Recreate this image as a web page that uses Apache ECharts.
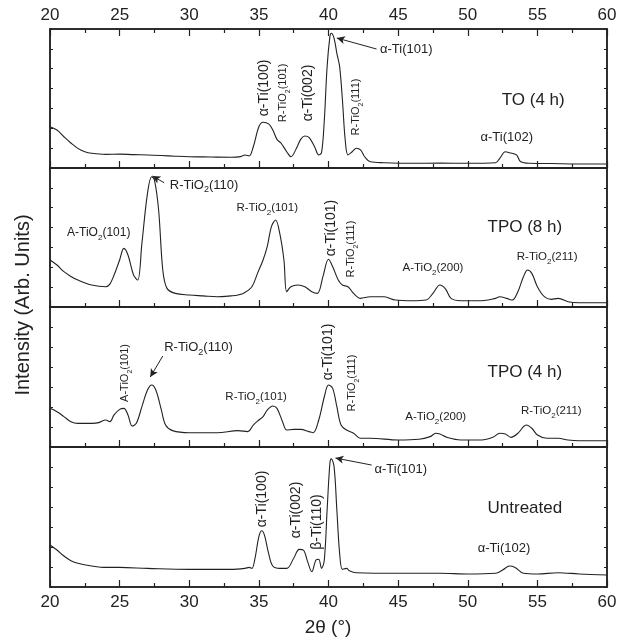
<!DOCTYPE html>
<html><head><meta charset="utf-8">
<script src="https://cdn.jsdelivr.net/npm/echarts@6/dist/echarts.min.js"></script>
<style>html,body{margin:0;padding:0;background:#fff}#c{width:628px;height:644px}</style>
</head><body><div id="c"></div>
<script>
// ---- data (2θ in degrees, intensity in arbitrary units per panel, 0-100) ----
const X_TICKS = [20, 25, 30, 35, 40, 45, 50, 55, 60];
const PANEL_NAMES = ['TO (4 h)', 'TPO (8 h)', 'TPO (4 h)', 'Untreated'];

const TO_4H = [[20,29.7],[20.5,27.3],[21,22.5],[21.5,18],[22,14.1],[22.5,11.7],[23,10.6],[24,9.8],[25,10],[26,9.6],[27,9.4],[28,9],[29,8.5],[30,8.1],[31,8],[32,7.8],[33,7.7],[33.7,8.2],[34,9.4],[34.3,8.6],[34.6,15.3],[35,29.7],[35.3,32.9],[35.7,31.7],[36,27.3],[36.3,20.6],[36.6,17.8],[37,11.7],[37.3,8.1],[37.7,14.2],[38,20.6],[38.3,23],[38.6,22],[39,15.3],[39.3,9.4],[39.5,11],[39.7,34.5],[39.9,72.9],[40.1,94.5],[40.2,96.9],[40.4,93.3],[40.6,82.5],[40.8,72.9],[41,48.9],[41.2,20.1],[41.4,9.4],[41.7,11.7],[42,14.2],[42.3,13],[42.6,8.1],[43,4.5],[44,3.8],[46,3.4],[48,3.5],[50,3.4],[52,3.8],[52.3,7],[52.7,11.7],[53,11],[53.5,9.4],[53.8,4.5],[54.5,3.4],[56,3.2],[58,2.9],[60,2.9]];

const TPO_8H = [[20,33.8],[20.5,30.2],[21,25.4],[21.5,22],[22,19.4],[23,15.8],[24,14.6],[24.3,16.5],[24.6,23],[25,33.8],[25.3,42.2],[25.6,37.4],[26,23],[26.3,19.4],[26.6,45.8],[27,81.8],[27.3,93.7],[27.5,91.4],[27.8,69.8],[28.1,26.6],[28.4,13.4],[29,9.8],[30,8.6],[31,8],[32,7.4],[33,8],[33.5,8.6],[34,10.5],[34.5,14.6],[34.9,24.2],[35.3,33.8],[35.6,43.4],[35.9,57.8],[36.2,62.6],[36.5,53],[36.8,33.8],[37,11],[37.3,14.6],[37.8,15.8],[38.3,14.6],[38.8,11],[39.2,9.8],[39.6,21.8],[40,34.3],[40.3,29],[40.7,19.4],[41,15.8],[41.4,14.6],[41.8,9.8],[42.3,6.2],[43,7.4],[44,7.4],[44.8,5],[46,4.5],[47,5],[47.5,9.8],[48,15.8],[48.4,13],[48.8,6.2],[49.5,4.5],[51,4.5],[52,6.2],[52.3,7.4],[52.8,6.2],[53.2,5],[53.6,11],[54,21.8],[54.3,26.6],[54.6,24.2],[55,14.6],[55.5,7.4],[56,5.5],[56.5,6.2],[57.2,3.8],[58,3.1],[60,3.1]];

const TPO_4H = [[20,27.6],[20.5,25.2],[21,21.7],[21.5,18.1],[22,16.9],[23,16.9],[23.5,17.4],[24,19.3],[24.3,18.1],[24.6,22.9],[25,26.9],[25.3,27.6],[25.6,22.9],[25.9,15],[26.2,16.9],[26.6,28.8],[27,40.7],[27.3,44.3],[27.6,40.7],[28,26.4],[28.3,15.7],[28.8,11.7],[30,10.2],[32,10.2],[33.5,11.7],[34.2,11],[34.6,15.7],[35,19.3],[35.3,21.7],[35.6,26.4],[36,29.3],[36.3,27.6],[36.7,18.1],[37,12.1],[37.5,12.6],[38,12.6],[38.6,11],[38.9,10.2],[39.3,19.3],[39.7,35.9],[40,44.3],[40.3,41.9],[40.6,28.8],[40.9,15.7],[41.3,12.1],[41.8,9.8],[42.3,6.2],[43,6.2],[45,5],[46.5,5.5],[47.3,7.4],[47.7,9.8],[48,9.3],[48.5,6.9],[49.5,5],[51,5],[51.8,6.9],[52.3,9.8],[52.7,9.3],[53.1,6.9],[53.6,9.8],[54,14.5],[54.2,15.7],[54.6,13.4],[55,8.6],[55.7,6.2],[56.5,6.2],[57.2,5],[58,4.5],[60,4.5]];

const UNTREATED = [[20,30],[20.5,26.4],[21,22.1],[21.5,18.8],[22,16.9],[23,15],[24,14],[25,14],[27,13.3],[30,12.6],[33,12.6],[34,13.3],[34.3,14],[34.5,13.3],[34.7,19.3],[35,35.9],[35.2,40.2],[35.4,37.1],[35.7,24],[36,15],[36.5,13.3],[37,13.3],[37.5,20.5],[37.9,26.9],[38.2,26.4],[38.5,18.1],[38.8,10.9],[39.1,19.3],[39.3,19.8],[39.5,13.3],[39.7,19.3],[39.9,55],[40.1,88.4],[40.2,91.5],[40.4,86],[40.6,55],[40.8,24],[41,12.6],[41.3,13.3],[41.5,11.6],[42,10.2],[45,9.8],[48,9.8],[50,9.3],[52,9.8],[52.5,12.1],[53,15],[53.4,14],[54,9.8],[55,9.3],[56.5,10.2],[58,9.3],[60,8.6]];

const SERIES_DATA = [TO_4H, TPO_8H, TPO_4H, UNTREATED];

// peak annotations: [panel, 2θ, intensity, text ("_2" = subscript), vertical?, size, align]
const PEAK_LABELS = [
  [0, 35.4, 57.6, 'α-Ti(100)', true, 14, 'center'],
  [0, 36.75, 54, 'R-TiO_2(101)', true, 11, 'center'],
  [0, 38.55, 54, 'α-Ti(002)', true, 14, 'center'],
  [0, 42.0, 43.9, 'R-TiO_2(111)', true, 11, 'center'],
  [0, 43.7, 85, 'α-Ti(101)', false, 13, 'left'],
  [0, 52.8, 22.3, 'α-Ti(102)', false, 13, 'center'],
  [1, 28.6, 87.8, 'R-TiO_2(110)', false, 13, 'left'],
  [1, 23.5, 53.2, 'A-TiO_2(101)', false, 12, 'center'],
  [1, 35.6, 71.2, 'R-TiO_2(101)', false, 11.5, 'center'],
  [1, 40.2, 56.8, 'α-Ti(101)', true, 14, 'center'],
  [1, 41.6, 41.7, 'R-TiO_2(111)', true, 11, 'center'],
  [1, 47.5, 28.1, 'A-TiO_2(200)', false, 11.5, 'center'],
  [1, 55.7, 36, 'R-TiO_2(211)', false, 11.5, 'center'],
  [2, 25.4, 52.9, 'A-TiO_2(101)', true, 11, 'center'],
  [2, 28.2, 71.4, 'R-TiO_2(110)', false, 13, 'left'],
  [2, 34.8, 35.7, 'R-TiO_2(101)', false, 11.5, 'center'],
  [2, 40.0, 67.9, 'α-Ti(101)', true, 14, 'center'],
  [2, 41.7, 45.7, 'R-TiO_2(111)', true, 11, 'center'],
  [2, 47.7, 21.4, 'A-TiO_2(200)', false, 11.5, 'center'],
  [2, 56.0, 25.7, 'R-TiO_2(211)', false, 11.5, 'center'],
  [3, 43.3, 84.3, 'α-Ti(101)', false, 13, 'left'],
  [3, 35.25, 62.9, 'α-Ti(100)', true, 14, 'center'],
  [3, 37.7, 55, 'α-Ti(002)', true, 14, 'center'],
  [3, 39.15, 46.4, 'β-Ti(110)', true, 14, 'center'],
  [3, 52.6, 27.9, 'α-Ti(102)', false, 13, 'center']
];
// sample name positions: [2θ, intensity]
const NAME_POS = [[54.7, 48.9], [54.1, 57.6], [54.1, 53.6], [54.1, 56.4]];
// arrows: [panel, from2θ, fromI, to2θ, toI]
const ARROWS = [
  [0, 43.45, 85.6, 40.6, 93.5],
  [1, 28.2, 89.4, 27.35, 94.2],
  [2, 28.1, 65, 27.2, 50],
  [3, 43.1, 87.1, 40.5, 92.1]
];

// ---- layout ----
const FONT = 'Liberation Sans, Arial, Helvetica, sans-serif';
const INK = '#222';
const TOPS = [29, 168, 307, 447];
const HEIGHTS = [139, 139, 140, 140];

const chart = echarts.init(document.getElementById('c'), null, {renderer: 'canvas'});

const grids = TOPS.map((t, i) => ({
  left: 50, width: 557, top: t, height: HEIGHTS[i],
  show: true, borderColor: INK, borderWidth: 1.5, backgroundColor: 'transparent'
}));

function xAxisFor(i, pos, labels) {
  return {
    gridIndex: i, type: 'value', position: pos, min: X_TICKS[0], max: X_TICKS[X_TICKS.length - 1], interval: 5,
    axisLine: {show: true, onZero: false, lineStyle: {color: INK, width: 1.5}},
    axisTick: {show: true, inside: true, length: 7, lineStyle: {color: INK, width: 1.2}},
    minorTick: {show: true, splitNumber: 2, length: 4, lineStyle: {color: INK, width: 1.2}},
    axisLabel: {show: labels, color: INK, fontSize: 17, fontFamily: FONT, margin: pos === 'top' ? 5 : 7},
    splitLine: {show: false}, minorSplitLine: {show: false}
  };
}
const xAxes = [];
for (let i = 0; i < 4; i++) xAxes.push(xAxisFor(i, 'bottom', i === 3));
xAxes.push(xAxisFor(0, 'top', true));

const yAxes = [];
for (let i = 0; i < 4; i++) {
  ['left', 'right'].forEach(p => yAxes.push({
    gridIndex: i, type: 'value', position: p, min: 0, max: 100, interval: 100 / 7,
    axisLine: {show: true, lineStyle: {color: INK, width: 1.5}},
    axisTick: {show: true, inside: true, length: 3, lineStyle: {color: INK, width: 1}},
    axisLabel: {show: false}, splitLine: {show: false}
  }));
}

const series = SERIES_DATA.map((d, i) => {
  const arrows = ARROWS.filter(a => a[0] === i).map(a => [{coord: [a[1], a[2]]}, {coord: [a[3], a[4]]}]);
  return {
    type: 'line', name: PANEL_NAMES[i], xAxisIndex: i, yAxisIndex: 2 * i, data: d,
    showSymbol: false, smooth: 0.35, animation: false,
    lineStyle: {color: INK, width: 1.1},
    markLine: {
      silent: true, animation: false, symbol: ['none', 'arrow'], symbolSize: [6, 8],
      label: {show: false}, lineStyle: {color: INK, width: 1, type: 'solid'},
      data: arrows
    }
  };
});

chart.setOption({
  backgroundColor: '#fff', animation: false,
  grid: grids, xAxis: xAxes, yAxis: yAxes, series: series
});

function richText(str, fs) {
  const parts = str.split('_2');
  let t = '';
  parts.forEach((p, k) => {
    if (p) t += '{n|' + p + '}';
    if (k < parts.length - 1) t += '{s|2}';
  });
  return {
    text: t,
    rich: {
      n: {fontSize: fs, fontFamily: FONT, fill: INK, lineHeight: fs + 6, verticalAlign: 'middle'},
      s: {fontSize: Math.round(fs * 0.68), fontFamily: FONT, fill: INK, lineHeight: Math.round(fs * 0.68), verticalAlign: 'bottom'}
    }
  };
}

const graphics = [];
PEAK_LABELS.forEach(l => {
  const p = chart.convertToPixel({seriesIndex: l[0]}, [l[1], l[2]]);
  const rt = richText(l[3], l[5]);
  graphics.push({
    type: 'text', x: p[0], y: p[1], rotation: l[4] ? Math.PI / 2 : 0, silent: true,
    style: {text: rt.text, rich: rt.rich, fill: INK, fontSize: l[5], fontFamily: FONT, align: l[6], verticalAlign: 'middle'}
  });
});
NAME_POS.forEach((q, i) => {
  const p = chart.convertToPixel({seriesIndex: i}, q);
  graphics.push({
    type: 'text', x: p[0], y: p[1], silent: true,
    style: {text: PANEL_NAMES[i], fill: INK, fontSize: 17, fontFamily: FONT, align: 'center', verticalAlign: 'middle'}
  });
});
graphics.push({
  type: 'text', x: 23, y: 305, rotation: Math.PI / 2, silent: true,
  style: {text: 'Intensity (Arb. Units)', fill: INK, fontSize: 20, fontFamily: FONT, align: 'center', verticalAlign: 'middle'}
});
graphics.push({
  type: 'text', x: 328, y: 628, silent: true,
  style: {text: '2θ (°)', fill: INK, fontSize: 19, fontFamily: FONT, align: 'center', verticalAlign: 'middle'}
});
chart.setOption({graphic: graphics});
</script>
</body></html>
